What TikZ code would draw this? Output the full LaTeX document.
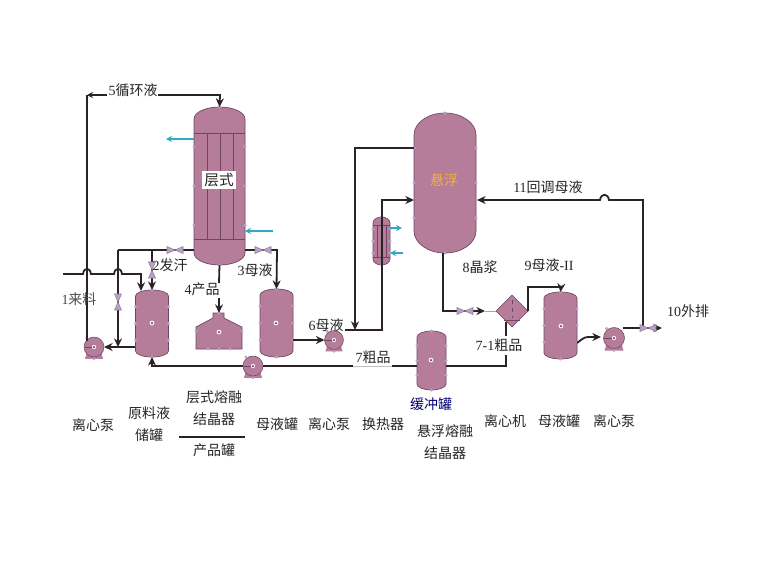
\documentclass[tikz,border=0pt]{standalone}
\usepackage{fontspec}
\setmainfont{Noto Sans CJK SC}
\newfontfamily\latf{Liberation Serif}
\usetikzlibrary{arrows.meta,shapes.geometric}
\newcommand\D[1]{{\latf #1}}
\definecolor{vfill}{HTML}{B67D9B}
\definecolor{vline}{HTML}{6F4560}
\definecolor{hnd}{HTML}{B5A3CC}
\definecolor{pipec}{HTML}{2A2226}
\definecolor{cyanc}{HTML}{2FA9C4}
\definecolor{goldc}{HTML}{F2B233}
\tikzset{
  x=.75pt,y=-.75pt,
  pipe/.style={draw=pipec,line width=1.35pt,line join=miter},
  flow/.style={pipe,-{Stealth[length=6.5pt,width=6pt]}},
  thinflow/.style={draw=cyanc,line width=1pt,-{Stealth[length=4.5pt,width=4.5pt]}},
  frame/.style={inner sep=0pt,outer sep=0pt},
  lab/.style={font=\fontsize{10.5}{12}\selectfont,text=black!85,inner sep=0pt,align=center},
  shell/.style={fill=vfill,draw=vline,line width=.5pt},
  internal/.style={draw=vline,line width=.7pt},
  vlv/.style={fill=hnd,draw=vline!70,line width=.4pt}
}
\newcommand\hdl[2]{\fill[hnd] (#1,#2) circle[radius=1.6];}
\newcommand\vessel[6]{%
  \pgfmathsetmacro\vXl{#2-#4/2}\pgfmathsetmacro\vXr{#2+#4/2}%
  \pgfmathsetmacro\vYt{#3-#5/2}\pgfmathsetmacro\vYb{#3+#5/2}%
  \pgfmathsetmacro\vKx{.55*#4/2}\pgfmathsetmacro\vKy{.55*#6}%
  \node[frame,minimum width=#4*.75pt,minimum height=#5*.75pt] (#1) at (#2,#3) {};
  \path[shell] (\vXl,\vYt+#6) .. controls (\vXl,\vYt+#6-\vKy) and (#2-\vKx,\vYt) .. (#2,\vYt)
     .. controls (#2+\vKx,\vYt) and (\vXr,\vYt+#6-\vKy) .. (\vXr,\vYt+#6)
     -- (\vXr,\vYb-#6) .. controls (\vXr,\vYb-#6+\vKy) and (#2+\vKx,\vYb) .. (#2,\vYb)
     .. controls (#2-\vKx,\vYb) and (\vXl,\vYb-#6+\vKy) .. (\vXl,\vYb-#6) -- cycle;
  \hdl{#2}{\vYt}\hdl{#2}{\vYb}
  \hdl{\vXl}{#3}\hdl{\vXr}{#3}
  \hdl{\vXl}{#3-.25*#5}\hdl{\vXr}{#3-.25*#5}
  \hdl{\vXl}{#3+.25*#5}\hdl{\vXr}{#3+.25*#5}
}
\newcommand\midmark[2]{\fill[white!85!hnd] (#1,#2) circle[radius=2.4];\fill[purple!70!black] (#1,#2) circle[radius=1];}
\newcommand\pumpb[4]{%
  \fill[vfill] (#2-#4*.75,#3+#4*.6) -- (#2+#4*.75,#3+#4*.6) -- (#2+#4*.95,#3+#4*1.25) -- (#2-#4*.95,#3+#4*1.25) -- cycle;
  \node[circle,frame,fill=vfill,draw=vline,line width=.4pt,minimum size=2.1*#4*.75pt] (#1) at (#2,#3) {};
  \draw[vline,line width=.5pt] (#2-#4,#3) -- (#2,#3);
  \fill[white!85!hnd] (#2,#3) circle[radius=2.2];\fill[purple!70!black] (#2,#3) circle[radius=1];
  \hdl{#2-#4*.75}{#3-#4*.95}\hdl{#2}{#3+#4*1.25}
}
\newcommand\valveh[3]{%
  \coordinate (#1) at (#2,#3);
  \path[vlv] (#2,#3) -- (#2-8,#3-3.5) -- (#2-8,#3+3.5) -- cycle;
  \path[vlv] (#2,#3) -- (#2+8,#3-3.5) -- (#2+8,#3+3.5) -- cycle;
}
\newcommand\valvev[3]{%
  \coordinate (#1) at (#2,#3);
  \path[vlv] (#2,#3) -- (#2-3.5,#3-8) -- (#2+3.5,#3-8) -- cycle;
  \path[vlv] (#2,#3) -- (#2-3.5,#3+8) -- (#2+3.5,#3+8) -- cycle;
}
\begin{document}
\begin{tikzpicture}
\useasboundingbox[fill=white] (0,0) rectangle (768,576);

% ---- junctions and free ends
\coordinate (a5s) at (87,341);
\coordinate (a5c) at (87,95);
\coordinate (a5e) at (107,95);
\coordinate (b5s) at (158,95);
\coordinate (b5c) at (220,95);
\coordinate (f0) at (63,274);
\coordinate (f1a) at (83,274);
\coordinate (f1b) at (91,274);
\coordinate (f2a) at (114,274);
\coordinate (f2b) at (122,274);
\coordinate (f3) at (141,274);
\coordinate (fin) at (141,291);
\coordinate (w0) at (194,250);
\coordinate (w1) at (152,250);
\coordinate (w2) at (118,250);
\coordinate (w3) at (118,347);
\coordinate (fo) at (135,347);
\coordinate (m0) at (245,250);
\coordinate (m1) at (277,250);
\coordinate (p0) at (219,283);
\coordinate (p1) at (219,298);
\coordinate (t1o) at (293,340);
\coordinate (r0) at (152,366);
\coordinate (L7a) at (353,366);
\coordinate (L7b) at (392,366);
\coordinate (bufw) at (417,366);
\coordinate (s0) at (414,148);
\coordinate (s1) at (355,148);
\coordinate (s2) at (355,330);
\coordinate (q0) at (345,330);
\coordinate (q1) at (382,330);
\coordinate (q2) at (382,200);
\coordinate (q3) at (414,200);
\coordinate (u0) at (446,366);
\coordinate (u1) at (506,366);
\coordinate (u2) at (506,355);
\coordinate (u3) at (506,336);
\coordinate (u4) at (506,322);
\coordinate (c0) at (443,253);
\coordinate (c1) at (443,311);
\coordinate (c2) at (485,311);
\coordinate (d1) at (528,287);
\coordinate (d2) at (561,287);
\coordinate (o0) at (577,343);
\coordinate (o1) at (588,337);
\coordinate (o2) at (601,337);
\coordinate (z0) at (623,328);
\coordinate (z1) at (643,328);
\coordinate (z2) at (662,328);
\coordinate (z3) at (643,200);
\coordinate (z4a) at (609,200);
\coordinate (z4b) at (600,200);
\coordinate (z5) at (477,200);
\coordinate (cw1a) at (194,139);
\coordinate (cw1b) at (166,139);
\coordinate (cw2a) at (273,231);
\coordinate (cw2b) at (245,231);
\coordinate (cw3a) at (390,228);
\coordinate (cw3b) at (402,228);
\coordinate (cw4a) at (403,253);
\coordinate (cw4b) at (390,253);
\coordinate (ruleL) at (179,437);
\coordinate (ruleR) at (245,437);

% ---- vessels
\vessel{layer}{219.5}{186}{51}{158}{12}
\draw[internal] (194,133) -- (245,133) (194,239) -- (245,239);
\draw[internal] (207,133) -- (207,239) (220,133) -- (220,239) (233,133) -- (233,239);
\vessel{feed}{152}{323.5}{33}{67}{6}
\vessel{tankA}{276.5}{323}{33}{68}{6}
\vessel{susp}{445}{183}{62}{140}{22}
\vessel{buffer}{431.5}{360.5}{29}{59}{6}
\vessel{tankB}{560.5}{325.5}{33}{67}{6}
\vessel{hx}{381.5}{241}{17}{48}{6}
\draw[internal] (373,225) -- (390,225) (373,257) -- (390,257);
\draw[internal,line width=.5pt] (377,225) -- (377,257) (386,225) -- (386,257);

\node[frame,minimum width=34.5pt,minimum height=27pt] (prod) at (219,331) {};
\path[shell] (196,327) -- (213,318) -- (213,313) -- (224,313) -- (224,318) -- (242,327) -- (242,349) -- (196,349) -- cycle;
\hdl{196}{331}\hdl{242}{331}\hdl{208}{349}\hdl{219}{349}\hdl{230}{349}\hdl{219}{313}

\node[diamond,frame,aspect=1,fill=vfill,draw=vline,line width=.5pt,minimum width=24pt,minimum height=24pt] (cent) at (512,311) {};
\draw[internal] (504,320) -- (520,320);
\draw[internal,dashed,line width=.5pt] (512,300) -- (512,318);

\midmark{152}{323}\midmark{276}{323}\midmark{219}{332}\midmark{431}{360}\midmark{561}{326}

\pumpb{pumpA}{94}{347}{9.5}
\pumpb{pumpB}{253}{366}{9.5}
\pumpb{pumpC}{334}{340}{9}
\pumpb{pumpD}{614}{338}{10}

% ---- pipes
\draw[pipe] (a5s) -- (a5c);
\draw[pipe,{Stealth[length=4.5pt,width=4.5pt]}-] (a5c) -- (a5e);
\draw[flow] (b5s) -- (b5c) -- (layer.north);
\draw[flow] (f0) -- (f1a) .. controls (84,267) and (90,267) .. (f1b) -- (f2a)
   .. controls (115,267) and (121,267) .. (f2b) -- (f3) -- (fin);
\draw[pipe] (w0) -- (w1) -- (w2);
\draw[flow] (w2) -- (w3);
\draw[flow] (w1) -- (feed.north);
\draw[flow] (fo) -- (pumpA.east);
\draw[flow] (m0) -- (m1) -- (tankA.north);
\draw[pipe] (layer.south) -- (p0);
\draw[flow] (p1) -- (prod.north);
\draw[flow] (t1o) -- (pumpC.west);
\draw[flow] (pumpB.west) -- (r0) -- (feed.south);
\draw[pipe] (pumpB.east) -- (L7a);
\draw[draw=black!25,line width=.6pt] (L7a) -- (L7b);
\draw[pipe] (L7b) -- (bufw);
\draw[flow] (s0) -- (s1) -- (s2);
\draw[flow] (q0) -- (q1) -- (q2) -- (q3);
\draw[pipe] (u0) -- (u1) -- (u2);
\draw[pipe] (u3) -- (u4);
\draw[flow] (c0) -- (c1) -- (c2);
\draw[draw=black!35,line width=.5pt] (c2) -- (cent.west);
\draw[flow] (cent.east) -- (d1) -- (d2) -- (tankB.north);
\draw[flow] (o0) .. controls (581,340) and (584,337) .. (o1) -- (o2);
\draw[flow] (z0) -- (z1) -- (z2);
\draw[flow] (z1) -- (z3) -- (z4a) .. controls (608,193) and (601,193) .. (z4b) -- (z5);

% ---- valves
\valveh{v1}{175}{250}
\valveh{v2}{263}{250}
\valvev{v3}{152}{270}
\valvev{v4}{118}{302}
\valveh{v5}{465}{311}
\valveh{v6}{648}{328}

% ---- cooling water
\draw[thinflow] (cw1a) -- (cw1b);
\draw[thinflow] (cw2a) -- (cw2b);
\draw[thinflow] (cw3a) -- (cw3b);
\draw[thinflow] (cw4a) -- (cw4b);

% ---- labels
\node[lab] (t5) at (133,90) {\D{5}循环液};
\node[lab,fill=white,inner sep=1.5pt,font=\fontsize{11}{12}\selectfont] (tc) at (219,180) {层式};
\node[lab,text=goldc] (ts) at (444,180) {悬浮};
\node[lab] (t2) at (170,265) {\D{2}发汗};
\node[lab] (t3) at (255,270) {\D{3}母液};
\node[lab] (t4) at (202,289) {\D{4}产品};
\node[lab,text=black!70] (t1) at (79,299) {\D{1}来料};
\node[lab] (t6) at (326,325) {\D{6}母液};
\node[lab] (t7) at (373,357) {\D{7}粗品};
\node[lab] (t71) at (499,345) {\D{7-1}粗品};
\node[lab] (t8) at (480,267) {\D{8}晶浆};
\node[lab] (t9) at (549,265) {\D{9}母液\D{-II}};
\node[lab] (t10) at (688,311) {\D{10}外排};
\node[lab] (t11) at (548,187) {\D{11}回调母液};

\node[lab] (n1) at (93,425) {离心泵};
\node[lab] (n2) at (149,424) {原料液\\[5pt]储罐};
\node[lab] (n3) at (214,408) {层式熔融\\[5pt]结晶器};
\draw[pipec,line width=1.2pt] (ruleL) -- (ruleR);
\node[lab] (n3b) at (214,450) {产品罐};
\node[lab] (n4) at (277,424) {母液罐};
\node[lab] (n5) at (329,424) {离心泵};
\node[lab] (n6) at (383,424) {换热器};
\node[lab,text=blue!45!black] (n7) at (431,404) {缓冲罐};
\node[lab] (n8) at (445,442) {悬浮熔融\\[5pt]结晶器};
\node[lab] (n9) at (505,421) {离心机};
\node[lab] (n10) at (559,421) {母液罐};
\node[lab] (n11) at (614,421) {离心泵};
\end{tikzpicture}
\end{document}
